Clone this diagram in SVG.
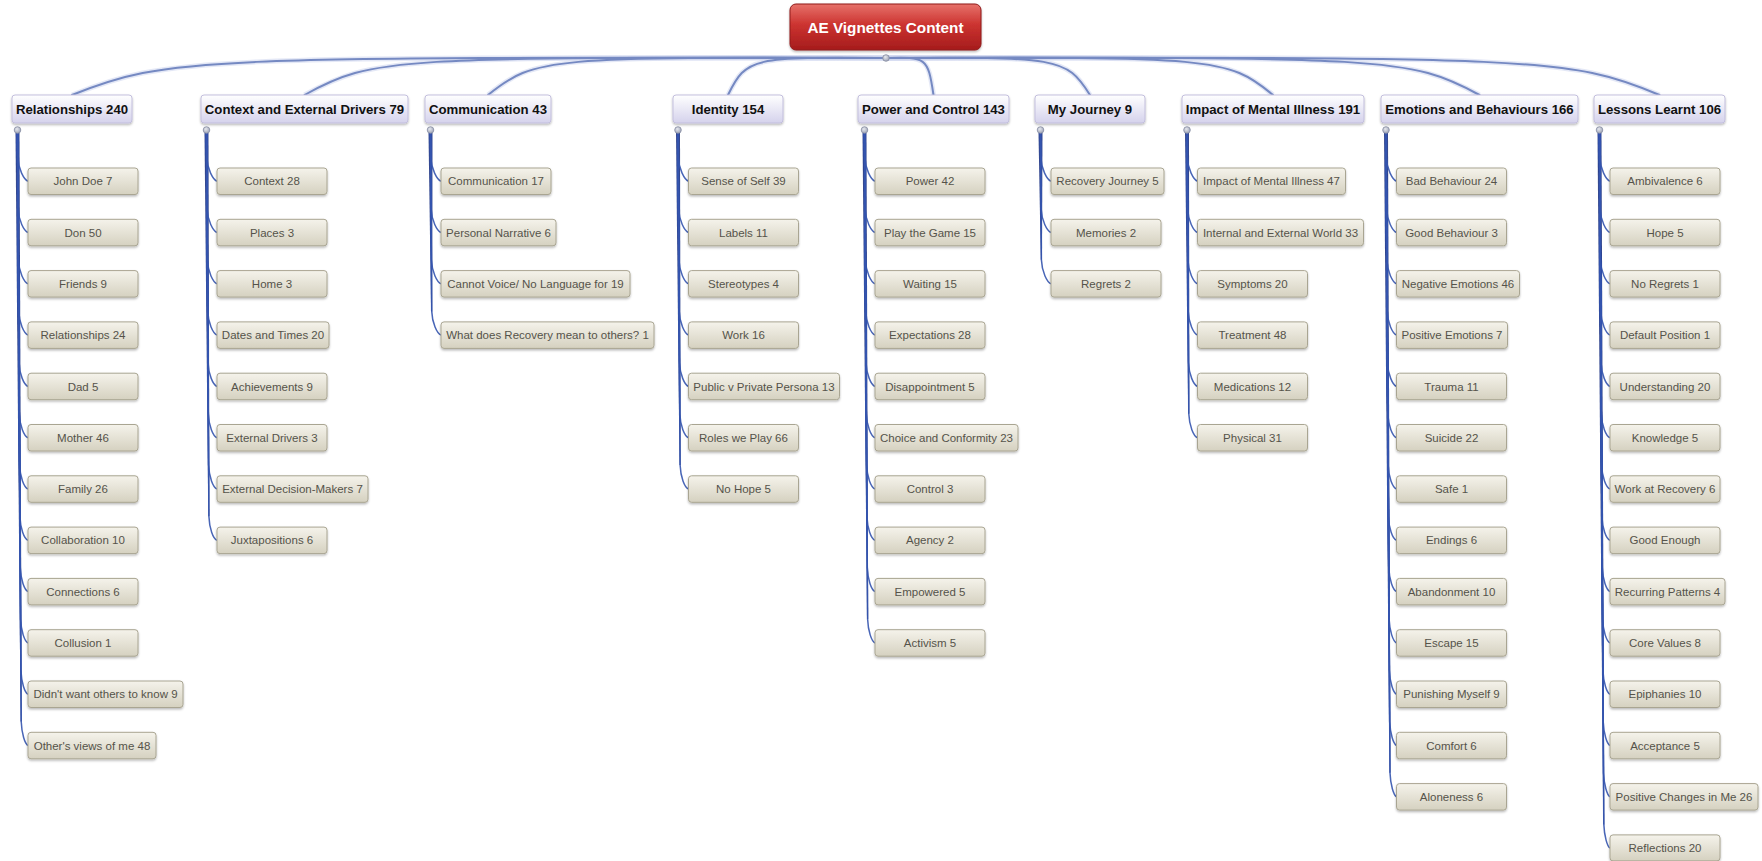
<svg xmlns="http://www.w3.org/2000/svg" xmlns:xlink="http://www.w3.org/1999/xlink" width="1762" height="861" viewBox="0 0 1762 861">
  <style>
    text { font-family: "Liberation Sans", Arial, Helvetica, sans-serif; }
    .root rect { fill: url(#gRoot); stroke: #8f1a1a; stroke-width: 1; filter: url(#sh); }
    .root text { fill: #ffffff; font-size: 15.3px; font-weight: bold; text-anchor: middle; }
    .head rect { fill: url(#gHead); stroke: #c3bfdd; stroke-width: 1; filter: url(#sh); }
    .head text { fill: #111111; font-size: 13.2px; font-weight: bold; text-anchor: middle; }
    .leaf rect { fill: url(#gLeaf); stroke: #a9a592; stroke-width: 1; filter: url(#sh); }
    .leaf text { fill: #55534a; font-size: 11.5px; text-anchor: middle; }
    .dot { fill: url(#gDot); stroke: #878da2; stroke-width: 0.8; }
    .main-halo { fill: none; stroke: #cdd5ee; stroke-width: 5; stroke-opacity: 0.55; }
    .main { fill: none; stroke: #7589c2; stroke-width: 2; stroke-linecap: round; }
    .branch { fill: none; stroke: #3454ae; stroke-width: 1.5; stroke-opacity: 0.9; }
    .trunk { fill: #1f3585; fill-opacity: 0.9; }
  </style>
  <defs>
    <linearGradient id="gRoot" x1="0" y1="0" x2="0" y2="1">
      <stop offset="0" stop-color="#e6716a"/>
      <stop offset="0.45" stop-color="#cc3330"/>
      <stop offset="1" stop-color="#a51c1c"/>
    </linearGradient>
    <linearGradient id="gHead" x1="0" y1="0" x2="0" y2="1">
      <stop offset="0" stop-color="#ffffff"/>
      <stop offset="1" stop-color="#d5d2ec"/>
    </linearGradient>
    <linearGradient id="gLeaf" x1="0" y1="0" x2="0" y2="1">
      <stop offset="0" stop-color="#f5f3eb"/>
      <stop offset="1" stop-color="#d5d1c0"/>
    </linearGradient>
    <radialGradient id="gDot" cx="0.4" cy="0.35" r="0.7">
      <stop offset="0" stop-color="#e6e8ee"/>
      <stop offset="1" stop-color="#9aa0b3"/>
    </radialGradient>
    <filter id="sh" x="-10%" y="-20%" width="120%" height="160%">
      <feDropShadow dx="0" dy="1.5" stdDeviation="1.2" flood-color="#000000" flood-opacity="0.28"/>
    </filter>
    <!-- child branch shapes, drawn from a dot at x=0 to a box edge at x=10.5 -->
    <path id="b0" d="M0 133 L0.3 157.25 C0.8 169.25 6.5 179.75 10.5 181.25"/>
    <path id="b1" d="M0 133 L0.6 208.55 C1.1 220.55 6.5 231.05 10.5 232.55"/>
    <path id="b2" d="M0 133 L0.9 259.85 C1.4 271.85 6.5 282.35 10.5 283.85"/>
    <path id="b3" d="M0 133 L1.2 311.15 C1.7 323.15 6.5 333.65 10.5 335.15"/>
    <path id="b4" d="M0 133 L1.5 362.45 C2 374.45 6.5 384.95 10.5 386.45"/>
    <path id="b5" d="M0 133 L1.8 413.75 C2.3 425.75 6.5 436.25 10.5 437.75"/>
    <path id="b6" d="M0 133 L2.1 465.05 C2.6 477.05 6.5 487.55 10.5 489.05"/>
    <path id="b7" d="M0 133 L2.4 516.35 C2.9 528.35 6.5 538.85 10.5 540.35"/>
    <path id="b8" d="M0 133 L2.8 567.65 C3.3 579.65 6.8 590.15 10.5 591.65"/>
    <path id="b9" d="M0 133 L3.1 618.95 C3.6 630.95 7 641.45 10.5 642.95"/>
    <path id="b10" d="M0 133 L3.4 670.25 C3.9 682.25 7.2 692.75 10.5 694.25"/>
    <path id="b11" d="M0 133 L3.7 721.55 C4.2 733.55 7.4 744.05 10.5 745.55"/>
    <path id="b12" d="M0 133 L4 772.85 C4.5 784.85 7.6 795.35 10.5 796.85"/>
    <path id="b13" d="M0 133 L4.3 824.15 C4.8 836.15 7.8 846.65 10.5 848.15"/>
    <!-- tapered trunks ending at the last branch of a column -->
    <polygon id="t2" points="-2,133 2,133 1.5,259.85 0.3,259.85"/>
    <polygon id="t3" points="-2,133 2,133 1.8,311.15 0.6,311.15"/>
    <polygon id="t5" points="-2,133 2,133 2.4,413.75 1.2,413.75"/>
    <polygon id="t6" points="-2,133 2,133 2.7,465.05 1.5,465.05"/>
    <polygon id="t7" points="-2,133 2,133 3,516.35 1.8,516.35"/>
    <polygon id="t9" points="-2,133 2,133 3.7,618.95 2.5,618.95"/>
    <polygon id="t11" points="-2,133 2,133 4.3,721.55 3.1,721.55"/>
    <polygon id="t12" points="-2,133 2,133 4.6,772.85 3.4,772.85"/>
    <polygon id="t13" points="-2,133 2,133 4.9,824.15 3.7,824.15"/>
  </defs>

  <rect width="1762" height="861" fill="#ffffff"/>

  <!-- connectors -->
  <g id="connectors">
    <g id="main-branches">
      <path class="main-halo" d="M886 58 C199 57 167 57 72 95"/>
      <path class="main-halo" d="M886 58 C395 57 372.5 57 304.5 95"/>
      <path class="main-halo" d="M886 58 C550 57 534.6 57 488 95"/>
      <path class="main-halo" d="M886 58 C752.6 57 746.5 57 728 95"/>
      <path class="main-halo" d="M886 58 C926.1 57 927.9 57 933.5 95"/>
      <path class="main-halo" d="M886 58 C1058.2 57 1066.1 57 1090 95"/>
      <path class="main-halo" d="M886 58 C1212.6 57 1227.7 57 1273 95"/>
      <path class="main-halo" d="M886 58 C1386.9 57 1410.1 57 1479.5 95"/>
      <path class="main-halo" d="M886 58 C1538.8 57 1569 57 1659.5 95"/>
      <path class="main" d="M886 58 C199 57 167 57 72 95"/>
      <path class="main" d="M886 58 C395 57 372.5 57 304.5 95"/>
      <path class="main" d="M886 58 C550 57 534.6 57 488 95"/>
      <path class="main" d="M886 58 C752.6 57 746.5 57 728 95"/>
      <path class="main" d="M886 58 C926.1 57 927.9 57 933.5 95"/>
      <path class="main" d="M886 58 C1058.2 57 1066.1 57 1090 95"/>
      <path class="main" d="M886 58 C1212.6 57 1227.7 57 1273 95"/>
      <path class="main" d="M886 58 C1386.9 57 1410.1 57 1479.5 95"/>
      <path class="main" d="M886 58 C1538.8 57 1569 57 1659.5 95"/>
    </g>
    <g id="trunks" class="trunk">
      <use href="#t11" x="17.5"/>
      <use href="#t7" x="206.5"/>
      <use href="#t3" x="430.5"/>
      <use href="#t6" x="678"/>
      <use href="#t9" x="864.5"/>
      <use href="#t2" x="1040.5"/>
      <use href="#t5" x="1187"/>
      <use href="#t12" x="1386"/>
      <use href="#t13" x="1599.5"/>
    </g>
    <g id="relationships-links" class="branch" transform="translate(17.5 0)">
      <use href="#b0"/><use href="#b1"/><use href="#b2"/><use href="#b3"/><use href="#b4"/><use href="#b5"/>
      <use href="#b6"/><use href="#b7"/><use href="#b8"/><use href="#b9"/><use href="#b10"/><use href="#b11"/>
    </g>
    <g id="context-links" class="branch" transform="translate(206.5 0)">
      <use href="#b0"/><use href="#b1"/><use href="#b2"/><use href="#b3"/><use href="#b4"/><use href="#b5"/>
      <use href="#b6"/><use href="#b7"/>
    </g>
    <g id="communication-links" class="branch" transform="translate(430.5 0)">
      <use href="#b0"/><use href="#b1"/><use href="#b2"/><use href="#b3"/>
    </g>
    <g id="identity-links" class="branch" transform="translate(678 0)">
      <use href="#b0"/><use href="#b1"/><use href="#b2"/><use href="#b3"/><use href="#b4"/><use href="#b5"/>
      <use href="#b6"/>
    </g>
    <g id="power-links" class="branch" transform="translate(864.5 0)">
      <use href="#b0"/><use href="#b1"/><use href="#b2"/><use href="#b3"/><use href="#b4"/><use href="#b5"/>
      <use href="#b6"/><use href="#b7"/><use href="#b8"/><use href="#b9"/>
    </g>
    <g id="journey-links" class="branch" transform="translate(1040.5 0)">
      <use href="#b0"/><use href="#b1"/><use href="#b2"/>
    </g>
    <g id="impact-links" class="branch" transform="translate(1187 0)">
      <use href="#b0"/><use href="#b1"/><use href="#b2"/><use href="#b3"/><use href="#b4"/><use href="#b5"/>
    </g>
    <g id="emotions-links" class="branch" transform="translate(1386 0)">
      <use href="#b0"/><use href="#b1"/><use href="#b2"/><use href="#b3"/><use href="#b4"/><use href="#b5"/>
      <use href="#b6"/><use href="#b7"/><use href="#b8"/><use href="#b9"/><use href="#b10"/><use href="#b11"/>
      <use href="#b12"/>
    </g>
    <g id="lessons-links" class="branch" transform="translate(1599.5 0)">
      <use href="#b0"/><use href="#b1"/><use href="#b2"/><use href="#b3"/><use href="#b4"/><use href="#b5"/>
      <use href="#b6"/><use href="#b7"/><use href="#b8"/><use href="#b9"/><use href="#b10"/><use href="#b11"/>
      <use href="#b12"/><use href="#b13"/>
    </g>
  </g>

  <!-- central topic -->
  <g id="root" class="root">
    <rect x="790" y="4" width="191" height="46" rx="6"/>
    <text x="885.5" y="32.5">AE Vignettes Content</text>
  </g>
  <circle class="dot" cx="886" cy="58" r="3.3"/>

  <!-- main topics -->
  <g id="relationships" class="head"><rect x="12" y="95" width="120" height="28" rx="3"/><text x="72" y="113.5">Relationships 240</text></g>
  <g id="context" class="head"><rect x="201" y="95" width="207" height="28" rx="3"/><text x="304.5" y="113.5">Context and External Drivers 79</text></g>
  <g id="communication" class="head"><rect x="425" y="95" width="126" height="28" rx="3"/><text x="488" y="113.5">Communication 43</text></g>
  <g id="identity" class="head"><rect x="673" y="95" width="110" height="28" rx="3"/><text x="728" y="113.5">Identity 154</text></g>
  <g id="power" class="head"><rect x="858" y="95" width="151" height="28" rx="3"/><text x="933.5" y="113.5">Power and Control 143</text></g>
  <g id="journey" class="head"><rect x="1035" y="95" width="110" height="28" rx="3"/><text x="1090" y="113.5">My Journey 9</text></g>
  <g id="impact" class="head"><rect x="1182" y="95" width="182" height="28" rx="3"/><text x="1273" y="113.5">Impact of Mental Illness 191</text></g>
  <g id="emotions" class="head"><rect x="1381" y="95" width="197" height="28" rx="3"/><text x="1479.5" y="113.5">Emotions and Behaviours 166</text></g>
  <g id="lessons" class="head"><rect x="1594" y="95" width="131" height="28" rx="3"/><text x="1659.5" y="113.5">Lessons Learnt 106</text></g>

  <g id="topic-dots">
    <circle class="dot" cx="17.5" cy="130" r="3.3"/>
    <circle class="dot" cx="206.5" cy="130" r="3.3"/>
    <circle class="dot" cx="430.5" cy="130" r="3.3"/>
    <circle class="dot" cx="678" cy="130" r="3.3"/>
    <circle class="dot" cx="864.5" cy="130" r="3.3"/>
    <circle class="dot" cx="1040.5" cy="130" r="3.3"/>
    <circle class="dot" cx="1187" cy="130" r="3.3"/>
    <circle class="dot" cx="1386" cy="130" r="3.3"/>
    <circle class="dot" cx="1599.5" cy="130" r="3.3"/>
  </g>

  <!-- Relationships -->
  <g id="rel-0" class="leaf"><rect x="28" y="168" width="110" height="26.5" rx="3"/><text x="83" y="185.3">John Doe 7</text></g>
  <g id="rel-1" class="leaf"><rect x="28" y="219.3" width="110" height="26.5" rx="3"/><text x="83" y="236.6">Don 50</text></g>
  <g id="rel-2" class="leaf"><rect x="28" y="270.6" width="110" height="26.5" rx="3"/><text x="83" y="287.9">Friends 9</text></g>
  <g id="rel-3" class="leaf"><rect x="28" y="321.9" width="110" height="26.5" rx="3"/><text x="83" y="339.2">Relationships 24</text></g>
  <g id="rel-4" class="leaf"><rect x="28" y="373.2" width="110" height="26.5" rx="3"/><text x="83" y="390.5">Dad 5</text></g>
  <g id="rel-5" class="leaf"><rect x="28" y="424.5" width="110" height="26.5" rx="3"/><text x="83" y="441.8">Mother 46</text></g>
  <g id="rel-6" class="leaf"><rect x="28" y="475.8" width="110" height="26.5" rx="3"/><text x="83" y="493.1">Family 26</text></g>
  <g id="rel-7" class="leaf"><rect x="28" y="527.1" width="110" height="26.5" rx="3"/><text x="83" y="544.4">Collaboration 10</text></g>
  <g id="rel-8" class="leaf"><rect x="28" y="578.4" width="110" height="26.5" rx="3"/><text x="83" y="595.7">Connections 6</text></g>
  <g id="rel-9" class="leaf"><rect x="28" y="629.7" width="110" height="26.5" rx="3"/><text x="83" y="647">Collusion 1</text></g>
  <g id="rel-10" class="leaf"><rect x="28" y="681" width="155" height="26.5" rx="3"/><text x="105.5" y="698.3">Didn't want others to know 9</text></g>
  <g id="rel-11" class="leaf"><rect x="28" y="732.3" width="128" height="26.5" rx="3"/><text x="92" y="749.6">Other's views of me 48</text></g>

  <!-- Context and External Drivers -->
  <g id="ctx-0" class="leaf"><rect x="217" y="168" width="110" height="26.5" rx="3"/><text x="272" y="185.3">Context 28</text></g>
  <g id="ctx-1" class="leaf"><rect x="217" y="219.3" width="110" height="26.5" rx="3"/><text x="272" y="236.6">Places 3</text></g>
  <g id="ctx-2" class="leaf"><rect x="217" y="270.6" width="110" height="26.5" rx="3"/><text x="272" y="287.9">Home 3</text></g>
  <g id="ctx-3" class="leaf"><rect x="217" y="321.9" width="112" height="26.5" rx="3"/><text x="273" y="339.2">Dates and Times 20</text></g>
  <g id="ctx-4" class="leaf"><rect x="217" y="373.2" width="110" height="26.5" rx="3"/><text x="272" y="390.5">Achievements 9</text></g>
  <g id="ctx-5" class="leaf"><rect x="217" y="424.5" width="110" height="26.5" rx="3"/><text x="272" y="441.8">External Drivers 3</text></g>
  <g id="ctx-6" class="leaf"><rect x="217" y="475.8" width="151" height="26.5" rx="3"/><text x="292.5" y="493.1">External Decision-Makers 7</text></g>
  <g id="ctx-7" class="leaf"><rect x="217" y="527.1" width="110" height="26.5" rx="3"/><text x="272" y="544.4">Juxtapositions 6</text></g>

  <!-- Communication -->
  <g id="com-0" class="leaf"><rect x="441" y="168" width="110" height="26.5" rx="3"/><text x="496" y="185.3">Communication 17</text></g>
  <g id="com-1" class="leaf"><rect x="441" y="219.3" width="115" height="26.5" rx="3"/><text x="498.5" y="236.6">Personal Narrative 6</text></g>
  <g id="com-2" class="leaf"><rect x="441" y="270.6" width="189" height="26.5" rx="3"/><text x="535.5" y="287.9">Cannot Voice/ No Language for 19</text></g>
  <g id="com-3" class="leaf"><rect x="441" y="321.9" width="213" height="26.5" rx="3"/><text x="547.5" y="339.2">What does Recovery mean to others? 1</text></g>

  <!-- Identity -->
  <g id="idn-0" class="leaf"><rect x="688.5" y="168" width="110" height="26.5" rx="3"/><text x="743.5" y="185.3">Sense of Self 39</text></g>
  <g id="idn-1" class="leaf"><rect x="688.5" y="219.3" width="110" height="26.5" rx="3"/><text x="743.5" y="236.6">Labels 11</text></g>
  <g id="idn-2" class="leaf"><rect x="688.5" y="270.6" width="110" height="26.5" rx="3"/><text x="743.5" y="287.9">Stereotypes 4</text></g>
  <g id="idn-3" class="leaf"><rect x="688.5" y="321.9" width="110" height="26.5" rx="3"/><text x="743.5" y="339.2">Work 16</text></g>
  <g id="idn-4" class="leaf"><rect x="688.5" y="373.2" width="151" height="26.5" rx="3"/><text x="764" y="390.5">Public v Private Persona 13</text></g>
  <g id="idn-5" class="leaf"><rect x="688.5" y="424.5" width="110" height="26.5" rx="3"/><text x="743.5" y="441.8">Roles we Play 66</text></g>
  <g id="idn-6" class="leaf"><rect x="688.5" y="475.8" width="110" height="26.5" rx="3"/><text x="743.5" y="493.1">No Hope 5</text></g>

  <!-- Power and Control -->
  <g id="pow-0" class="leaf"><rect x="875" y="168" width="110" height="26.5" rx="3"/><text x="930" y="185.3">Power 42</text></g>
  <g id="pow-1" class="leaf"><rect x="875" y="219.3" width="110" height="26.5" rx="3"/><text x="930" y="236.6">Play the Game 15</text></g>
  <g id="pow-2" class="leaf"><rect x="875" y="270.6" width="110" height="26.5" rx="3"/><text x="930" y="287.9">Waiting 15</text></g>
  <g id="pow-3" class="leaf"><rect x="875" y="321.9" width="110" height="26.5" rx="3"/><text x="930" y="339.2">Expectations 28</text></g>
  <g id="pow-4" class="leaf"><rect x="875" y="373.2" width="110" height="26.5" rx="3"/><text x="930" y="390.5">Disappointment 5</text></g>
  <g id="pow-5" class="leaf"><rect x="875" y="424.5" width="143" height="26.5" rx="3"/><text x="946.5" y="441.8">Choice and Conformity 23</text></g>
  <g id="pow-6" class="leaf"><rect x="875" y="475.8" width="110" height="26.5" rx="3"/><text x="930" y="493.1">Control 3</text></g>
  <g id="pow-7" class="leaf"><rect x="875" y="527.1" width="110" height="26.5" rx="3"/><text x="930" y="544.4">Agency 2</text></g>
  <g id="pow-8" class="leaf"><rect x="875" y="578.4" width="110" height="26.5" rx="3"/><text x="930" y="595.7">Empowered 5</text></g>
  <g id="pow-9" class="leaf"><rect x="875" y="629.7" width="110" height="26.5" rx="3"/><text x="930" y="647">Activism 5</text></g>

  <!-- My Journey -->
  <g id="jny-0" class="leaf"><rect x="1051" y="168" width="113" height="26.5" rx="3"/><text x="1107.5" y="185.3">Recovery Journey 5</text></g>
  <g id="jny-1" class="leaf"><rect x="1051" y="219.3" width="110" height="26.5" rx="3"/><text x="1106" y="236.6">Memories 2</text></g>
  <g id="jny-2" class="leaf"><rect x="1051" y="270.6" width="110" height="26.5" rx="3"/><text x="1106" y="287.9">Regrets 2</text></g>

  <!-- Impact of Mental Illness -->
  <g id="imp-0" class="leaf"><rect x="1197.5" y="168" width="148" height="26.5" rx="3"/><text x="1271.5" y="185.3">Impact of Mental Illness 47</text></g>
  <g id="imp-1" class="leaf"><rect x="1197.5" y="219.3" width="166" height="26.5" rx="3"/><text x="1280.5" y="236.6">Internal and External World 33</text></g>
  <g id="imp-2" class="leaf"><rect x="1197.5" y="270.6" width="110" height="26.5" rx="3"/><text x="1252.5" y="287.9">Symptoms 20</text></g>
  <g id="imp-3" class="leaf"><rect x="1197.5" y="321.9" width="110" height="26.5" rx="3"/><text x="1252.5" y="339.2">Treatment 48</text></g>
  <g id="imp-4" class="leaf"><rect x="1197.5" y="373.2" width="110" height="26.5" rx="3"/><text x="1252.5" y="390.5">Medications 12</text></g>
  <g id="imp-5" class="leaf"><rect x="1197.5" y="424.5" width="110" height="26.5" rx="3"/><text x="1252.5" y="441.8">Physical 31</text></g>

  <!-- Emotions and Behaviours -->
  <g id="emo-0" class="leaf"><rect x="1396.5" y="168" width="110" height="26.5" rx="3"/><text x="1451.5" y="185.3">Bad Behaviour 24</text></g>
  <g id="emo-1" class="leaf"><rect x="1396.5" y="219.3" width="110" height="26.5" rx="3"/><text x="1451.5" y="236.6">Good Behaviour 3</text></g>
  <g id="emo-2" class="leaf"><rect x="1396.5" y="270.6" width="123" height="26.5" rx="3"/><text x="1458" y="287.9">Negative Emotions 46</text></g>
  <g id="emo-3" class="leaf"><rect x="1396.5" y="321.9" width="111" height="26.5" rx="3"/><text x="1452" y="339.2">Positive Emotions 7</text></g>
  <g id="emo-4" class="leaf"><rect x="1396.5" y="373.2" width="110" height="26.5" rx="3"/><text x="1451.5" y="390.5">Trauma 11</text></g>
  <g id="emo-5" class="leaf"><rect x="1396.5" y="424.5" width="110" height="26.5" rx="3"/><text x="1451.5" y="441.8">Suicide 22</text></g>
  <g id="emo-6" class="leaf"><rect x="1396.5" y="475.8" width="110" height="26.5" rx="3"/><text x="1451.5" y="493.1">Safe 1</text></g>
  <g id="emo-7" class="leaf"><rect x="1396.5" y="527.1" width="110" height="26.5" rx="3"/><text x="1451.5" y="544.4">Endings 6</text></g>
  <g id="emo-8" class="leaf"><rect x="1396.5" y="578.4" width="110" height="26.5" rx="3"/><text x="1451.5" y="595.7">Abandonment 10</text></g>
  <g id="emo-9" class="leaf"><rect x="1396.5" y="629.7" width="110" height="26.5" rx="3"/><text x="1451.5" y="647">Escape 15</text></g>
  <g id="emo-10" class="leaf"><rect x="1396.5" y="681" width="110" height="26.5" rx="3"/><text x="1451.5" y="698.3">Punishing Myself 9</text></g>
  <g id="emo-11" class="leaf"><rect x="1396.5" y="732.3" width="110" height="26.5" rx="3"/><text x="1451.5" y="749.6">Comfort 6</text></g>
  <g id="emo-12" class="leaf"><rect x="1396.5" y="783.6" width="110" height="26.5" rx="3"/><text x="1451.5" y="800.9">Aloneness 6</text></g>

  <!-- Lessons Learnt -->
  <g id="les-0" class="leaf"><rect x="1610" y="168" width="110" height="26.5" rx="3"/><text x="1665" y="185.3">Ambivalence 6</text></g>
  <g id="les-1" class="leaf"><rect x="1610" y="219.3" width="110" height="26.5" rx="3"/><text x="1665" y="236.6">Hope 5</text></g>
  <g id="les-2" class="leaf"><rect x="1610" y="270.6" width="110" height="26.5" rx="3"/><text x="1665" y="287.9">No Regrets 1</text></g>
  <g id="les-3" class="leaf"><rect x="1610" y="321.9" width="110" height="26.5" rx="3"/><text x="1665" y="339.2">Default Position 1</text></g>
  <g id="les-4" class="leaf"><rect x="1610" y="373.2" width="110" height="26.5" rx="3"/><text x="1665" y="390.5">Understanding 20</text></g>
  <g id="les-5" class="leaf"><rect x="1610" y="424.5" width="110" height="26.5" rx="3"/><text x="1665" y="441.8">Knowledge 5</text></g>
  <g id="les-6" class="leaf"><rect x="1610" y="475.8" width="110" height="26.5" rx="3"/><text x="1665" y="493.1">Work at Recovery 6</text></g>
  <g id="les-7" class="leaf"><rect x="1610" y="527.1" width="110" height="26.5" rx="3"/><text x="1665" y="544.4">Good Enough</text></g>
  <g id="les-8" class="leaf"><rect x="1610" y="578.4" width="115" height="26.5" rx="3"/><text x="1667.5" y="595.7">Recurring Patterns 4</text></g>
  <g id="les-9" class="leaf"><rect x="1610" y="629.7" width="110" height="26.5" rx="3"/><text x="1665" y="647">Core Values 8</text></g>
  <g id="les-10" class="leaf"><rect x="1610" y="681" width="110" height="26.5" rx="3"/><text x="1665" y="698.3">Epiphanies 10</text></g>
  <g id="les-11" class="leaf"><rect x="1610" y="732.3" width="110" height="26.5" rx="3"/><text x="1665" y="749.6">Acceptance 5</text></g>
  <g id="les-12" class="leaf"><rect x="1610" y="783.6" width="148" height="26.5" rx="3"/><text x="1684" y="800.9">Positive Changes in Me 26</text></g>
  <g id="les-13" class="leaf"><rect x="1610" y="834.9" width="110" height="26" rx="3"/><text x="1665" y="852">Reflections 20</text></g>
</svg>
